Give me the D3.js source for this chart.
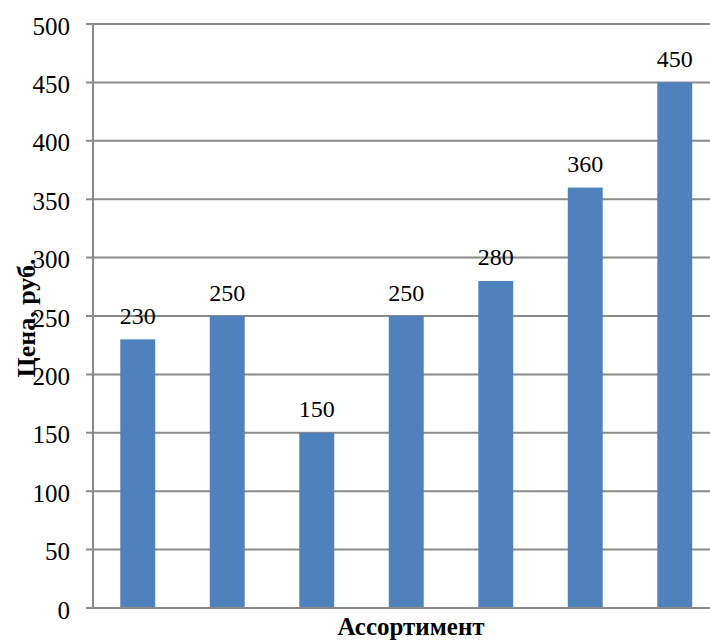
<!DOCTYPE html>
<html>
<head>
<meta charset="utf-8">
<script src="https://cdn.jsdelivr.net/npm/d3@7"></script>
<style>
html,body{margin:0;padding:0;background:#fff;overflow:hidden;}
svg{display:block;}
</style>
</head>
<body>
<svg id="chart" width="710" height="642"></svg>
<script>
const categories = ["1","2","3","4","5","6","7"];
const values = [230, 250, 150, 250, 280, 360, 450];
const yTicks = [0, 50, 100, 150, 200, 250, 300, 350, 400, 450, 500];
const yTitle = "Цена, руб.";
const xTitle = "Ассортимент";

const svg = d3.select("#chart");
const mLeft = 93, mRight = 719.5, mTop = 24, mBottom = 608;
const FONT = '"Liberation Serif"';

const x = d3.scaleBand().domain(categories).range([mLeft, mRight]).paddingInner(0.61).paddingOuter(0.305);
const y = d3.scaleLinear().domain([0, 500]).range([mBottom, mTop]);

// gridlines
svg.append("g").selectAll("line").data(yTicks).join("line")
  .attr("x1", mLeft - 7).attr("x2", 710)
  .attr("y1", d => y(d)).attr("y2", d => y(d))
  .attr("stroke", "#8a8a8a").attr("stroke-width", 2);

// y axis line
svg.append("line").attr("x1", mLeft).attr("x2", mLeft).attr("y1", mTop).attr("y2", mBottom)
  .attr("stroke", "#8a8a8a").attr("stroke-width", 2);

// y tick labels
svg.append("g").selectAll("text").data(yTicks).join("text")
  .attr("x", 70).attr("y", d => y(d) + 10.5)
  .attr("text-anchor", "end")
  .style("font-family", FONT).style("font-size", "25px").attr("fill", "#000")
  .text(d => d);

// bars
svg.append("g").selectAll("rect").data(values).join("rect")
  .attr("x", (d, i) => x(categories[i]))
  .attr("width", x.bandwidth())
  .attr("y", d => y(d))
  .attr("height", d => y(0) - y(d))
  .attr("fill", "#4F81BD");

// baseline over bars
svg.append("line").attr("x1", mLeft - 7).attr("x2", 710).attr("y1", y(0)).attr("y2", y(0))
  .attr("stroke", "#8a8a8a").attr("stroke-width", 2);

// data labels
svg.append("g").selectAll("text").data(values).join("text")
  .attr("x", (d, i) => x(categories[i]) + x.bandwidth() / 2)
  .attr("y", d => y(d) - 15.5)
  .attr("text-anchor", "middle")
  .style("font-family", FONT).style("font-size", "24px").attr("fill", "#000")
  .text(d => d);

// y title
svg.append("text")
  .attr("transform", "translate(35,318) rotate(-90)")
  .attr("text-anchor", "middle")
  .style("font-family", FONT).style("font-size", "26px").style("font-weight", "bold").attr("fill", "#000")
  .text(yTitle);

// x title
svg.append("text")
  .attr("x", 411).attr("y", 635)
  .attr("text-anchor", "middle")
  .style("font-family", FONT).style("font-size", "25px").style("font-weight", "bold").attr("fill", "#000")
  .text(xTitle);
</script>
</body>
</html>
